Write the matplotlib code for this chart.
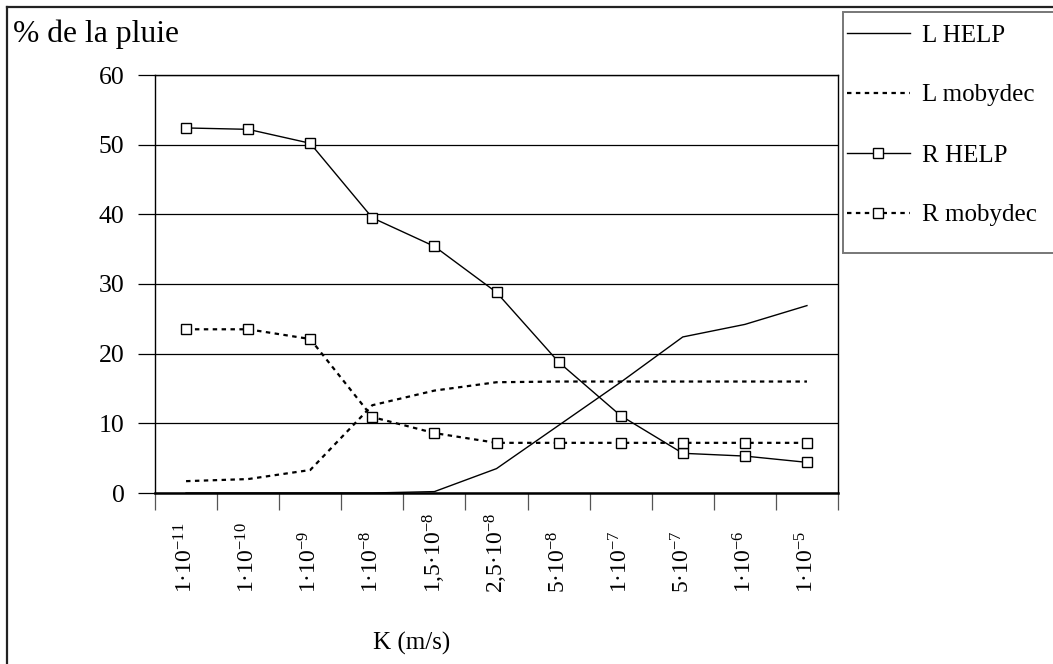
import matplotlib
matplotlib.use("Agg")
import matplotlib.pyplot as plt
from matplotlib.patches import Rectangle
from matplotlib.lines import Line2D
import numpy as np

plt.rcParams['font.family'] = ['Liberation Serif', 'DejaVu Serif']
plt.rcParams['mathtext.fontset'] = 'custom'
plt.rcParams['mathtext.rm'] = 'Liberation Serif'
plt.rcParams['mathtext.it'] = 'Liberation Serif'

categories = [r'1·10$^{-11}$', r'1·10$^{-10}$', r'1·10$^{-9}$', r'1·10$^{-8}$',
              r'1,5·10$^{-8}$', r'2,5·10$^{-8}$', r'5·10$^{-8}$', r'1·10$^{-7}$',
              r'5·10$^{-7}$', r'1·10$^{-6}$', r'1·10$^{-5}$']
L_HELP = [0, 0, 0, 0, 0.2, 3.5, 9.7, 15.9, 22.4, 24.2, 26.9]
L_mobydec = [1.7, 2.0, 3.3, 12.6, 14.7, 15.9, 16, 16, 16, 16, 16]
R_HELP = [52.4, 52.2, 50.2, 39.5, 35.4, 28.8, 18.8, 11.1, 5.7, 5.3, 4.4]
R_mobydec = [23.5, 23.5, 22.1, 10.9, 8.6, 7.2, 7.2, 7.2, 7.2, 7.2, 7.2]

W, H = 1053, 664
fig = plt.figure(figsize=(W / 100, H / 100), dpi=100)
ax = fig.add_axes([155 / W, (H - 493) / H, (838 - 155) / W, (493 - 75) / H])

x = np.arange(len(categories))
dash = (0, (2, 2))
l1, = ax.plot(x, L_HELP, color='black', lw=1.0, label='L HELP')
l2, = ax.plot(x, L_mobydec, color='black', lw=1.6, linestyle=dash, label='L mobydec')
l3, = ax.plot(x, R_HELP, color='black', lw=1.0, marker='s', markersize=7,
              markerfacecolor='white', markeredgecolor='black', markeredgewidth=1.0,
              label='R HELP')
l4, = ax.plot(x, R_mobydec, color='black', lw=1.6, linestyle=dash, marker='s', markersize=7,
              markerfacecolor='white', markeredgecolor='black', markeredgewidth=1.0,
              label='R mobydec')

ax.set_xlim(-0.5, len(categories) - 0.5)
ax.set_ylim(0, 60)
ax.set_yticks(np.arange(0, 61, 10))
ax.yaxis.grid(True, color='black', lw=0.9)
ax.set_axisbelow(True)
ax.tick_params(axis='y', length=12, width=0.9, pad=10, labelsize=18.5)

ax.set_xticks(np.arange(-0.5, len(categories), 1.0))
ax.set_xticklabels([])
ax.set_xticks(x, minor=True)
ax.set_xticklabels(categories, minor=True, rotation=90)
ax.tick_params(axis='x', which='major', length=12, width=0.9, color='#555555')
ax.tick_params(axis='x', which='minor', length=0, pad=72, labelsize=17)
for lab in ax.get_xticklabels(minor=True):
    lab.set_verticalalignment('bottom')

for s in ax.spines.values():
    s.set_linewidth(1.0)
ax.spines['bottom'].set_linewidth(1.8)

fig.text(13 / W, 1 - 34 / H, '% de la pluie', fontsize=22.8, ha='left', va='center')
fig.text(412 / W, 1 - 643 / H, 'K (m/s)', fontsize=18, ha='center', va='center')

# outer frame
fig.add_artist(Line2D([7 / W, 7 / W], [0, 1 - 7 / H], transform=fig.transFigure,
                      color='#222222', lw=1.6))
fig.add_artist(Line2D([7 / W, 1], [1 - 7 / H, 1 - 7 / H], transform=fig.transFigure,
                      color='#222222', lw=1.6))
# legend box
fig.add_artist(Rectangle((843 / W, 1 - 253 / H), (1070 - 843) / W, (253 - 12) / H,
                         transform=fig.transFigure, facecolor='white',
                         edgecolor='#777777', lw=1.4))

leg = fig.legend(handles=[l1, l2, l3, l4], loc='upper left',
                 bbox_to_anchor=(847 / W, 1 - 24 / H), frameon=False,
                 fontsize=18, handlelength=2.5, handletextpad=0.5,
                 labelspacing=1.5, borderpad=0, borderaxespad=0, numpoints=1)

fig.savefig('out.png', dpi=100)
